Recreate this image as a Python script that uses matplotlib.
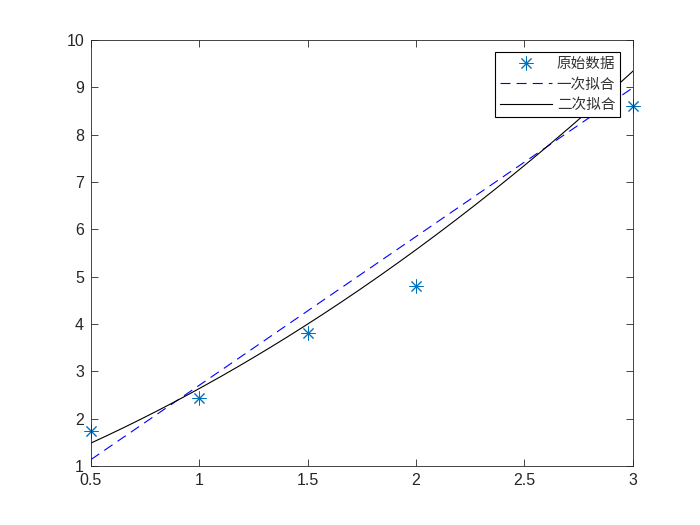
import numpy as np
import matplotlib
matplotlib.use('Agg')
import matplotlib.pyplot as plt

plt.rcParams['font.family'] = ['Liberation Sans', 'Noto Sans CJK SC', 'DejaVu Sans']

# measured data (x=2.5 point sits under the legend)
x = [0.5, 1.0, 1.5, 2.0, 2.5, 3.0]
y = [1.74, 2.44, 3.80, 4.80, 9.00, 8.60]
labels = ['原始数据', '一次拟合', '二次拟合']
xticks = [0.5, 1, 1.5, 2, 2.5, 3]
yticks = list(range(1, 11))

p1 = np.polyfit(x, y, 1)
p2 = np.polyfit(x, y, 2)
xx = np.linspace(min(x), max(x), 200)

fig = plt.figure(figsize=(7, 5.25), dpi=100)
ax = fig.add_axes([0.13, 0.1124, 0.774, 0.8114])

ax.plot(x, y, linestyle='none', marker=(8, 2, 0), markersize=10,
        markeredgewidth=0.7, color='#0072BD', label=labels[0], clip_on=False)
ax.plot(xx, np.polyval(p1, xx), '--', color='blue', linewidth=0.8,
        dashes=(9, 5.5), label=labels[1])
ax.plot(xx, np.polyval(p2, xx), '-', color='black', linewidth=0.8,
        label=labels[2])

ax.set_xlim(0.5, 3)
ax.set_ylim(1, 10)
ax.set_xticks(xticks)
ax.set_xticklabels(['0.5', '1', '1.5', '2', '2.5', '3'])
ax.set_yticks(yticks)
ax.tick_params(direction='in', top=True, right=True, labelsize=11.5,
               length=5, width=0.6, colors='#262626', pad=5)
for sp in ax.spines.values():
    sp.set_linewidth(0.6)
    sp.set_color('#262626')

leg = ax.legend(loc='upper right', bbox_to_anchor=(0.977, 0.972),
                fancybox=False, framealpha=1, edgecolor='black',
                handlelength=3.6, handletextpad=0.3, borderpad=0.35,
                labelspacing=0.45, borderaxespad=0,
                prop={'family': ['Noto Sans CJK SC'], 'size': 10.5})
leg.get_frame().set_linewidth(0.8)
leg.set_zorder(5)
for t in leg.get_texts():
    t.set_color('#333333')

fig.savefig('out.png', dpi=100)
